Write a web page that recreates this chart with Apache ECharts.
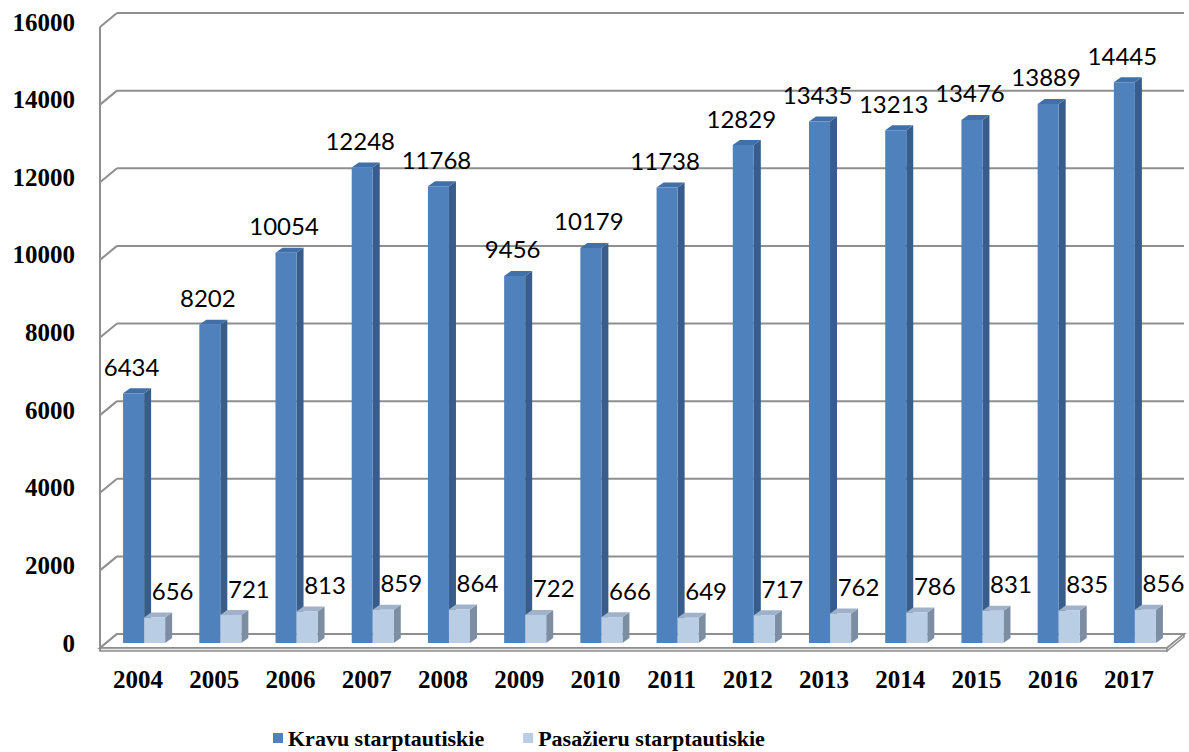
<!DOCTYPE html>
<html>
<head>
<meta charset="utf-8">
<script src="https://cdn.jsdelivr.net/npm/echarts@6/dist/echarts.min.js"></script>
<style>
  html, body { margin: 0; padding: 0; background: #fff; }
  #chart { width: 1189px; height: 752px; }
</style>
</head>
<body>
<div id="chart"></div>
<script>
// dati
var years = ['2004','2005','2006','2007','2008','2009','2010','2011','2012','2013','2014','2015','2016','2017'];
var kravu = [6434, 8202, 10054, 12248, 11768, 9456, 10179, 11738, 12829, 13435, 13213, 13476, 13889, 14445];
var pasazieru = [656, 721, 813, 859, 864, 722, 666, 649, 717, 762, 786, 831, 835, 856];
var yTicks = [0, 2000, 4000, 6000, 8000, 10000, 12000, 14000, 16000];

var seriesNames = ['Kravu starptautiskie', 'Pasažieru starptautiskie'];

// 3d look
var depthX = 7, depthY = -5;
var frontDx = -6, frontDy = 5, backDx = 11, backDy = -9;
var gridColor = '#8f8f8f';

var faceColors = [
    { front: '#4F81BD', side: '#385D8A', top: '#416FA8' },
    { front: '#B9CDE5', side: '#7D8EA3', top: '#9FB2C9' }
];

function barRenderer(idx) {
    return function (params, api) {
        var cat = api.value(0), val = api.value(1);
        var base = api.coord([cat, 0]);
        var top = api.coord([cat, val]);
        var bw = api.size([1, 0])[0] * 0.276;
        var x0 = idx === 0 ? base[0] - bw : base[0];
        var x1 = x0 + bw;
        var c = faceColors[idx];
        var labelX = idx === 0 ? (x0 + x1) / 2 - 2 : (x0 + x1) / 2 + 18;
        return {
            type: 'group',
            children: [
                { type: 'polygon', shape: { points: [[x1, top[1]], [x1 + depthX, top[1] + depthY], [x1 + depthX, base[1] + depthY], [x1, base[1]]] },
                  style: { fill: c.side } },
                { type: 'polygon', shape: { points: [[x0, top[1]], [x0 + depthX, top[1] + depthY], [x1 + depthX, top[1] + depthY], [x1, top[1]]] },
                  style: { fill: c.top } },
                { type: 'rect', shape: { x: x0, y: top[1], width: bw, height: base[1] - top[1] },
                  style: { fill: c.front } },
                { type: 'text', x: labelX, y: top[1] - 27,
                  style: { text: String(val), fill: '#000', font: '24px Lato', textAlign: 'center', textVerticalAlign: 'middle' } }
            ]
        };
    };
}

function wallRenderer(params, api) {
    var cs = params.coordSys;
    var v = api.value(1);
    var p = api.coord([0, v]);
    var y = p[1];
    var left = cs.x, right = cs.x + cs.width;
    var children = [
        { type: 'line', shape: { x1: left + frontDx, y1: y + frontDy, x2: left + backDx, y2: y + backDy },
          style: { stroke: gridColor, lineWidth: 2 } },
        { type: 'line', shape: { x1: left + backDx, y1: y + backDy, x2: right + backDx, y2: y + backDy },
          style: { stroke: gridColor, lineWidth: 2 } }
    ];
    if (v === 0) {
        var b = y;
        // pavimento
        children.push({ type: 'polygon', shape: { points: [[left + frontDx, b + frontDy], [right + frontDx, b + frontDy], [right + backDx, b + backDy], [left + backDx, b + backDy]] },
            style: { fill: '#ffffff', stroke: gridColor, lineWidth: 2 } });
        children.push({ type: 'polygon', shape: { points: [[left + frontDx, b + frontDy], [right + frontDx, b + frontDy], [right + frontDx, b + frontDy + 3], [left + frontDx, b + frontDy + 3]] },
            style: { fill: '#e6e6e6', stroke: gridColor, lineWidth: 1.5 } });
        children.push({ type: 'polygon', shape: { points: [[right + frontDx, b + frontDy], [right + backDx, b + backDy], [right + backDx, b + backDy + 3], [right + frontDx, b + frontDy + 3]] },
            style: { fill: '#e6e6e6', stroke: gridColor, lineWidth: 1.5 } });
        // left wall front edge
        var t = api.coord([0, yTicks[yTicks.length - 1]]);
        children.push({ type: 'line', shape: { x1: left + frontDx, y1: t[1] + frontDy, x2: left + frontDx, y2: b + frontDy + 3 },
            style: { stroke: gridColor, lineWidth: 2 } });
    }
    return { type: 'group', children: children };
}

var myChart = echarts.init(document.getElementById('chart'), null, { renderer: 'svg' });

var option = {
    animation: false,
    color: ['#4F81BD', '#B9CDE5'],
    grid: { left: 106, right: 16, top: 22, bottom: 109 },
    legend: {
        data: seriesNames,
        left: 273,
        top: 727,
        icon: 'rect',
        itemWidth: 10,
        itemHeight: 10,
        itemGap: 39,
        padding: 0,
        textStyle: { fontFamily: 'Liberation Serif', fontWeight: 'bold', fontSize: 22, color: '#000' }
    },
    xAxis: {
        type: 'category',
        data: years,
        axisLine: { show: false },
        axisTick: { show: false },
        splitLine: { show: false },
        axisLabel: {
            margin: 24,
            padding: [0, 12, 0, 0],
            fontFamily: 'Liberation Serif', fontWeight: 'bold', fontSize: 25, color: '#000'
        }
    },
    yAxis: {
        type: 'value',
        min: 0,
        max: 16000,
        interval: 2000,
        axisLine: { show: false },
        axisTick: { show: false },
        splitLine: { show: false },
        axisLabel: {
            margin: 31,
            padding: [14, 0, 0, 0],
            formatter: function (v) { return String(v); },
            fontFamily: 'Liberation Serif', fontWeight: 'bold', fontSize: 25, color: '#000'
        }
    },
    series: [
        {
            name: 'walls',
            type: 'custom',
            silent: true,
            z: 1,
            renderItem: wallRenderer,
            data: yTicks.map(function (v) { return [0, v]; })
        },
        {
            name: seriesNames[0],
            type: 'custom',
            z: 2,
            itemStyle: { color: '#4F81BD' },
            renderItem: barRenderer(0),
            data: kravu.map(function (v, i) { return [i, v]; })
        },
        {
            name: seriesNames[1],
            type: 'custom',
            z: 3,
            itemStyle: { color: '#B9CDE5' },
            renderItem: barRenderer(1),
            data: pasazieru.map(function (v, i) { return [i, v]; })
        }
    ]
};
myChart.setOption(option);
</script>
</body>
</html>
